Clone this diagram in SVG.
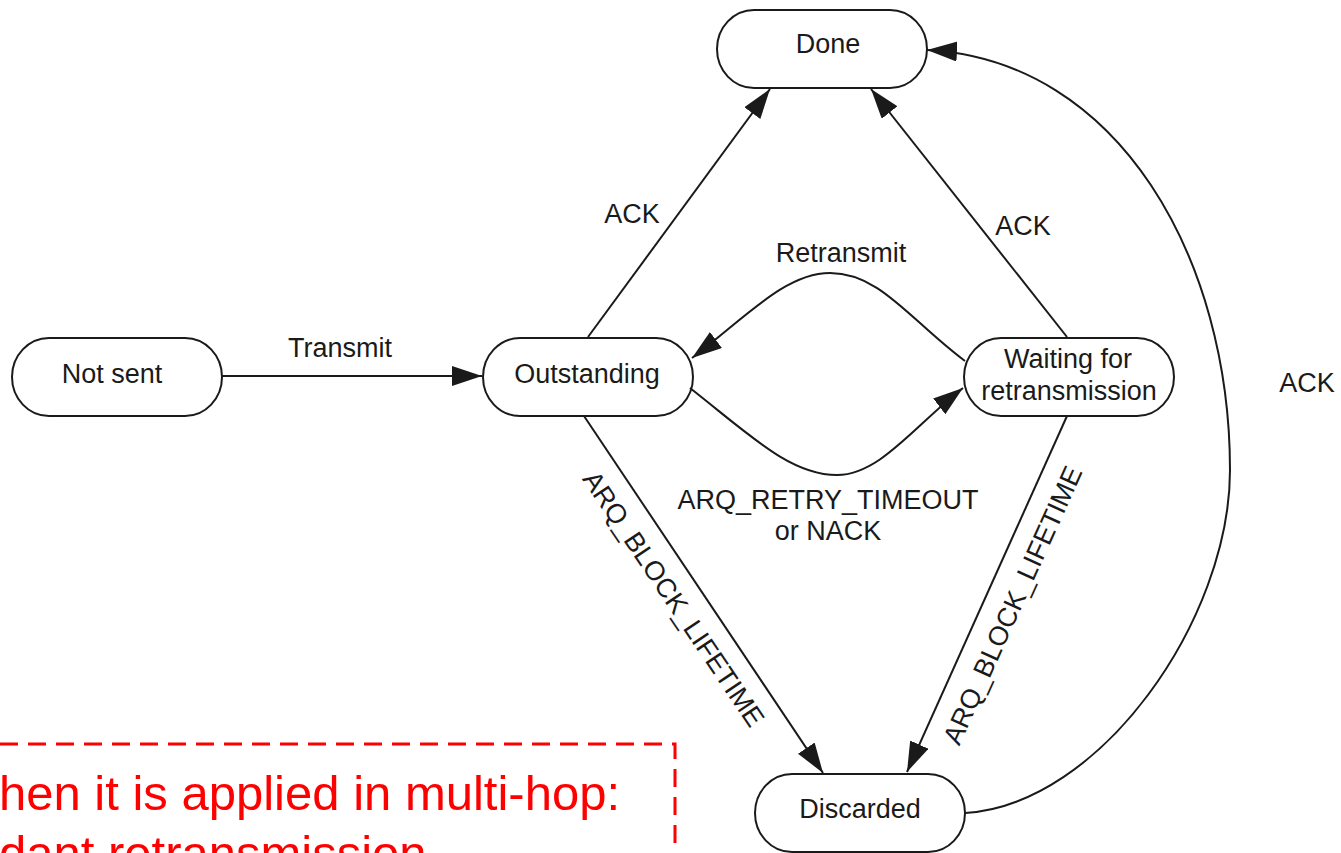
<svg xmlns="http://www.w3.org/2000/svg" width="1341" height="853" viewBox="0 0 1341 853">
  <style>
    .node rect { fill: #ffffff; stroke: #1a1a1a; stroke-width: 2; }
    .node text, .lbl { font-family: "Liberation Sans", Arial, sans-serif; font-size: 27px; fill: #1a1a1a; text-anchor: middle; }
    .edge { fill: none; stroke: #1a1a1a; stroke-width: 2; }
    .arrow { marker-end: url(#head); }
    .note-frame { fill: none; stroke: #ff0000; stroke-width: 3; stroke-dasharray: 18 10; }
    .note { font-family: "Liberation Sans", Arial, sans-serif; font-size: 49px; fill: #ff0000; }
  </style>
  <defs>
    <marker id="head" markerUnits="userSpaceOnUse" markerWidth="32" markerHeight="22" refX="30" refY="10" orient="auto">
      <path d="M0,0 L30,10 L0,20 z" fill="#1a1a1a"/>
    </marker>
  </defs>
  <rect width="1341" height="853" fill="#ffffff"/>

  <!-- state nodes -->
  <g id="done" class="node">
    <rect x="717" y="10" width="210" height="78" rx="37" ry="39"/>
    <text x="828" y="53">Done</text>
  </g>
  <g id="not-sent" class="node">
    <rect x="12" y="338" width="210" height="78" rx="37" ry="39"/>
    <text x="112" y="383">Not sent</text>
  </g>
  <g id="outstanding" class="node">
    <rect x="483" y="338" width="210" height="78" rx="37" ry="39"/>
    <text x="587" y="383">Outstanding</text>
  </g>
  <g id="waiting" class="node">
    <rect x="964" y="338" width="210" height="78" rx="37" ry="39"/>
    <text x="1068" y="368">Waiting for</text>
    <text x="1069" y="400">retransmission</text>
  </g>
  <g id="discarded" class="node">
    <rect x="755" y="774" width="210" height="78" rx="37" ry="39"/>
    <text x="860" y="818">Discarded</text>
  </g>

  <!-- transitions -->
  <g id="connectors">
    <path class="edge arrow" d="M222,376 L482,376"/>
    <path class="edge arrow" d="M588,337 L770,89"/>
    <path class="edge arrow" d="M1067,337 L871,89"/>
    <path class="edge arrow" d="M965,361 C910,320 880,273 830,273 C785,273 745,318 692,358"/>
    <path class="edge arrow" d="M690,388 C750,435 790,475 837,475 C880,475 915,425 963,388"/>
    <path class="edge arrow" d="M584,416 L823,773"/>
    <path class="edge arrow" d="M1067,416 L907,772"/>
    <path class="edge arrow" d="M965,813 C1100,805 1230,620 1230,470 C1230,260 1120,60 927,50"/>

    <text class="lbl" x="340" y="357">Transmit</text>
    <text class="lbl" x="632" y="223">ACK</text>
    <text class="lbl" x="1023" y="235">ACK</text>
    <text class="lbl" x="1307" y="392">ACK</text>
    <text class="lbl" x="841" y="262">Retransmit</text>
    <text class="lbl" x="828" y="509">ARQ_RETRY_TIMEOUT</text>
    <text class="lbl" x="828" y="540">or NACK</text>
    <text class="lbl" transform="rotate(56 666 604)" x="666" y="604">ARQ_BLOCK_LIFETIME</text>
    <text class="lbl" transform="rotate(-65.8 1021 609)" x="1021" y="609">ARQ_BLOCK_LIFETIME</text>
  </g>

  <!-- red annotation box -->
  <g id="note">
    <path class="note-frame" d="M0,744 L675,744 L675,853"/>
    <text class="note" x="-1" y="810">hen it is applied in multi-hop:</text>
    <text class="note" x="-1" y="870">dant retransmission</text>
  </g>
</svg>
